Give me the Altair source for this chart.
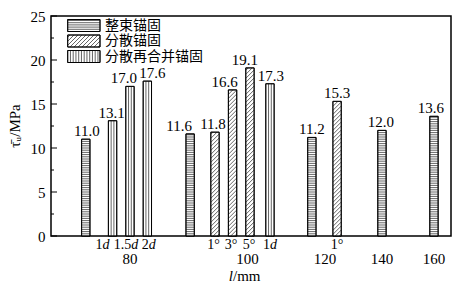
import altair as alt
import pandas as pd
import numpy as np

# ---------------- data ----------------
groups = ["80", "80", "80", "80", "100", "100", "100", "100", "100", "120", "120", "140", "160"]
sub_labels = ["", "1d", "1.5d", "2d", "", "1°", "3°", "5°", "1d", "", "1°", "", ""]
series = ["整束锚固", "分散再合并锚固", "分散再合并锚固", "分散再合并锚固",
          "整束锚固", "分散锚固", "分散锚固", "分散锚固", "分散再合并锚固",
          "整束锚固", "分散锚固", "整束锚固", "整束锚固"]
values = [11.0, 13.1, 17.0, 17.6, 11.6, 11.8, 16.6, 19.1, 17.3, 11.2, 15.3, 12.0, 13.6]
legend_names = ["整束锚固", "分散锚固", "分散再合并锚固"]
group_names = ["80", "100", "120", "140", "160"]
y_ticks = [0, 5, 10, 15, 20, 25]

# ---------------- layout ----------------
W, H = 400, 220
XMAX, YMAX = 23.0, 25.0
KX, KY = W / XMAX, H / YMAX
LEFT, TOP = 51, 16
slot_pos = [2.0, 3.54, 4.54, 5.54, 8.0, 9.43, 10.44, 11.44, 12.59, 15.0, 16.45, 19.03, 22.02]
label_dx = [1, -1, -6, 5, -11, -2, -8, -5, 1, 0, 0, -1, -3]
sub_dx = [0, -10, -4, 1.5, 0, -1.5, -1.5, -1, 0, 0, 0, 0, 0]
group_pos = [4.54, 11.3, 15.76, 19.03, 22.02]
HALF = 0.24
pattern = {"整束锚固": "h", "分散锚固": "d", "分散再合并锚固": "v"}
SERIF = "Liberation Serif"
CJK = "Noto Sans CJK SC"
FS = 15
FS_SUB = 14
SUB_Y, GRP_Y, XT_Y = 229, 243, 260


def ux(px):
    return (px - LEFT) / KX


def uy(py):
    return YMAX - (py - TOP) / KY


def hatch(kind, xl, xr, yb, yt, out):
    if kind == "h":
        s = 2.2 / KY
        y = yb + s
        while y < yt - 0.3 / KY:
            out.append((xl, xr, y, y))
            y += s
    elif kind == "v":
        s = 2.75 / KX
        x = xl + s
        while x < xr - 0.6 / KX:
            out.append((x, x, yb, yt))
            x += s
    else:
        m = KX / KY
        wdt = xr - xl
        s = 4.0 / KY
        c = yb - m * wdt + s / 2
        while c < yt:
            lo, hi = max(c, yb), min(c + m * wdt, yt)
            if hi > lo:
                out.append((xl + (lo - c) / m, xl + (hi - c) / m, lo, hi))
            c += s


bars = pd.DataFrame({"group": groups, "sub": sub_labels, "series": series, "value": values})
bars["pos"] = slot_pos
bars["x0"] = bars["pos"] - HALF
bars["x1"] = bars["pos"] + HALF
bars["y0"] = 0.0
bars["lx"] = bars["pos"] + np.array(label_dx) / KX
bars["sx"] = bars["pos"] + np.array(sub_dx) / KX
bars["vtxt"] = [f"{v:.1f}" for v in values]

segs = []
for _, r in bars.iterrows():
    hatch(pattern[r["series"]], r["x0"], r["x1"], 0.0, r["value"], segs)

# legend boxes (pixel layout converted to data units)
leg_rows = [(19.5, 31.5), (35, 47), (50.5, 62.5)]
leg_box = []
for name, (t, b) in zip(legend_names, leg_rows):
    xl, xr, yt, yb = ux(67.7), ux(100), uy(t), uy(b)
    leg_box.append({"x0": xl, "x1": xr, "y0": yb, "y1": yt, "name": name,
                    "tx": ux(105), "ty": (yb + yt) / 2})
    hatch(pattern[name], xl, xr, yb, yt, segs)
legend_df = pd.DataFrame(leg_box)
seg_df = pd.DataFrame(segs, columns=["x0", "x1", "y0", "y1"])

# sub labels with italic d
sub_up, sub_it = [], []
for _, r in bars.iterrows():
    lab = r["sub"]
    if not lab:
        continue
    if lab.endswith("d"):
        up = lab[:-1]
        upw = sum(0.25 if ch == "." else 0.5 for ch in up) * FS_SUB
        tot = upw + 0.5 * FS_SUB
        sx = r["sx"] + (upw - tot / 2) / KX
        sub_up.append({"x": sx, "t": up, "align": "right"})
        sub_it.append({"x": sx, "t": "d"})
    else:
        sub_up.append({"x": r["sx"], "t": lab, "align": "center"})
sub_up_df = pd.DataFrame(sub_up)
sub_it_df = pd.DataFrame(sub_it)
grp_df = pd.DataFrame({"x": group_pos, "t": group_names})

minor = pd.DataFrame({"y": [2.5 + 5 * k for k in range(5)]})
major = pd.DataFrame({"y": y_ticks})

xs = alt.Scale(domain=[0, XMAX], nice=False, zero=False)
ys = alt.Scale(domain=[0, YMAX], nice=False, zero=False)

base_rect = alt.Chart(bars).mark_rect(fill="white", stroke="black", strokeWidth=0.9).encode(
    x=alt.X("x0:Q", scale=xs, axis=None),
    x2="x1:Q",
    y=alt.Y("y0:Q", scale=ys, axis=alt.Axis(values=y_ticks, ticks=False, tickSize=0, domain=False,
                                              grid=False, labelFont=SERIF, labelFontSize=FS,
                                              labelColor="black", labelPadding=6, title=None)),
    y2="value:Q",
)

hatch_lines = alt.Chart(seg_df).mark_rule(stroke="#222", strokeWidth=0.7).encode(
    x=alt.X("x0:Q", scale=xs), x2="x1:Q", y=alt.Y("y0:Q", scale=ys), y2="y1:Q"
)

leg_rect = alt.Chart(legend_df).mark_rect(fill="white", stroke="black", strokeWidth=0.9).encode(
    x=alt.X("x0:Q", scale=xs), x2="x1:Q", y=alt.Y("y0:Q", scale=ys), y2="y1:Q"
)
leg_outline = alt.Chart(legend_df).mark_rect(fill=None, stroke="black", strokeWidth=0.9).encode(
    x=alt.X("x0:Q", scale=xs), x2="x1:Q", y=alt.Y("y0:Q", scale=ys), y2="y1:Q"
)
bar_outline = alt.Chart(bars).mark_rect(fill=None, stroke="black", strokeWidth=0.9).encode(
    x=alt.X("x0:Q", scale=xs), x2="x1:Q", y=alt.Y("y0:Q", scale=ys), y2="value:Q"
)
leg_text = alt.Chart(legend_df).mark_text(align="left", baseline="middle", font=CJK,
                                           fontSize=14, color="black").encode(
    x=alt.X("tx:Q", scale=xs), y=alt.Y("ty:Q", scale=ys), text="name:N"
)

val_text = alt.Chart(bars).mark_text(align="center", baseline="alphabetic", dy=-3, font=SERIF,
                                      fontSize=FS, color="black").encode(
    x=alt.X("lx:Q", scale=xs), y=alt.Y("value:Q", scale=ys), text="vtxt:N"
)

sub_up_r = alt.Chart(sub_up_df[sub_up_df["align"] == "right"]).mark_text(
    align="right", baseline="middle", font=SERIF, fontSize=FS_SUB, color="black").encode(
    x=alt.X("x:Q", scale=xs), y=alt.value(SUB_Y), text="t:N")
sub_up_c = alt.Chart(sub_up_df[sub_up_df["align"] == "center"]).mark_text(
    align="center", baseline="middle", font=SERIF, fontSize=FS_SUB, color="black").encode(
    x=alt.X("x:Q", scale=xs), y=alt.value(SUB_Y), text="t:N")
sub_it_t = alt.Chart(sub_it_df).mark_text(
    align="left", baseline="middle", font=SERIF, fontSize=FS_SUB, fontStyle="italic", color="black").encode(
    x=alt.X("x:Q", scale=xs), y=alt.value(SUB_Y), text="t:N")
grp_t = alt.Chart(grp_df).mark_text(
    align="center", baseline="middle", font=SERIF, fontSize=FS, color="black").encode(
    x=alt.X("x:Q", scale=xs), y=alt.value(GRP_Y), text="t:N")

xt1 = alt.Chart(pd.DataFrame({"t": ["l"]})).mark_text(
    align="right", baseline="middle", font=SERIF, fontSize=FS, fontStyle="italic", color="black").encode(
    x=alt.value(182), y=alt.value(XT_Y), text="t:N")
xt2 = alt.Chart(pd.DataFrame({"t": ["/mm"]})).mark_text(
    align="left", baseline="middle", font=SERIF, fontSize=FS, color="black").encode(
    x=alt.value(182), y=alt.value(XT_Y), text="t:N")
yt = alt.Chart(pd.DataFrame({"t": ["τ̄ᵤ/MPa"]})).mark_text(
    align="center", baseline="middle", angle=270, font=SERIF, fontSize=FS, color="black").encode(
    x=alt.value(-36), y=alt.value(110), text="t:N")

maj_t = alt.Chart(major).mark_rule(color="black", strokeWidth=1).encode(
    x=alt.value(0), x2=alt.value(6), y=alt.Y("y:Q", scale=ys))
min_t = alt.Chart(minor).mark_rule(color="black", strokeWidth=1).encode(
    x=alt.value(0), x2=alt.value(3), y=alt.Y("y:Q", scale=ys))

chart = alt.layer(
    base_rect, leg_rect, hatch_lines, bar_outline, leg_outline, leg_text, val_text,
    sub_up_r, sub_up_c, sub_it_t, grp_t, xt1, xt2, yt, maj_t, min_t
).properties(
    width=W, height=H,
    autosize=alt.AutoSizeParams(type="none"),
    padding={"left": LEFT, "top": TOP, "right": 472 - LEFT - W, "bottom": 291 - TOP - H},
    background="white",
).configure_view(stroke="black", strokeWidth=1.5)

chart.save("out.html", embed_options={"renderer": "svg", "actions": False})
